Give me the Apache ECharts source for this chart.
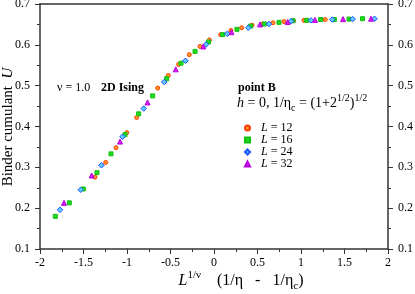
<!DOCTYPE html>
<html><head><meta charset="utf-8">
<script src="https://cdn.jsdelivr.net/npm/echarts@6/dist/echarts.min.js"></script>
<style>html,body{margin:0;padding:0;background:#fff}#c{width:415px;height:294px}</style>
</head><body><div id="c"></div>
<script>
// Data (x = L^{1/nu}(1/eta - 1/eta_c), y = Binder cumulant U)
const L12x = [-1.368,-1.245,-1.126,-1.003,-0.889,-0.647,-0.525,-0.406,-0.284,-0.161,-0.052,0.077,0.195,0.318,0.437,0.560,0.678,0.805,0.914,1.034,1.278];
const L12y = [0.276,0.312,0.348,0.385,0.422,0.494,0.525,0.552,0.576,0.596,0.612,0.625,0.635,0.642,0.648,0.651,0.654,0.657,0.659,0.660,0.662];
const L16x = [-1.824,-1.663,-1.502,-1.345,-1.184,-1.023,-0.866,-0.705,-0.544,-0.379,-0.218,-0.063,0.100,0.264,0.422,0.580,0.747,0.908,1.066,1.226,1.383,1.552,1.707];
const L16y = [0.180,0.213,0.247,0.287,0.333,0.380,0.431,0.475,0.517,0.555,0.584,0.607,0.625,0.638,0.646,0.651,0.655,0.659,0.660,0.662,0.662,0.663,0.664];
const L24x = [-1.770,-1.532,-1.293,-1.052,-0.808,-0.572,-0.328,-0.092,0.153,0.394,0.632,0.885,1.115,1.360,1.594,1.845];
const L24y = [0.196,0.245,0.305,0.375,0.444,0.509,0.561,0.601,0.627,0.642,0.651,0.658,0.660,0.662,0.663,0.664];
const L32x = [-1.724,-1.406,-1.080,-0.764,-0.440,-0.123,0.201,0.529,0.847,1.161,1.483,1.805];
const L32y = [0.213,0.280,0.363,0.459,0.540,0.596,0.631,0.650,0.656,0.661,0.663,0.664];
const seriesNames = ['L = 12','L = 16','L = 24','L = 32'];
const xTickLabels = ['-2','-1.5','-1','-0.5','0','0.5','1','1.5','2'];
const yTickLabels = ['0.1','0.2','0.3','0.4','0.5','0.6','0.7'];

const FF = '"Liberation Serif", "Times New Roman", serif';
const zip = (xs, ys) => xs.map((v, i) => [v, ys[i]]);
const axisCol = '#333';
const xFmt = v => xTickLabels[Math.round((v + 2) / 0.5)] ?? '';
const yFmt = v => yTickLabels[Math.round((v - 0.1) / 0.1)] ?? '';

function xAx(pos, labels) {
  return {
    type: 'value', min: -2, max: 2, interval: 0.5, position: pos,
    axisLine: {show: true, onZero: false, lineStyle: {color: axisCol, width: 1.5}},
    axisTick: {show: labels, inside: false, length: 5, lineStyle: {color: axisCol, width: 1}},
    minorTick: {show: labels, splitNumber: 2, length: 3, lineStyle: {color: axisCol, width: 1}},
    splitLine: {show: false}, minorSplitLine: {show: false},
    axisLabel: {show: labels, margin: 8, fontFamily: FF, fontSize: 12, color: '#000', formatter: xFmt, showMinLabel: true, showMaxLabel: true}
  };
}
function yAx(pos) {
  return {
    type: 'value', min: 0.1, max: 0.7, interval: 0.1, position: pos,
    axisLine: {show: true, onZero: false, lineStyle: {color: axisCol, width: 1.5}},
    axisTick: {show: true, inside: false, length: 5, lineStyle: {color: axisCol, width: 1}},
    minorTick: {show: true, splitNumber: 2, length: 3, lineStyle: {color: axisCol, width: 1}},
    splitLine: {show: false}, minorSplitLine: {show: false},
    axisLabel: {show: true, margin: 10, fontFamily: FF, fontSize: 12, color: '#000', formatter: yFmt, showMinLabel: true, showMaxLabel: true}
  };
}

const styles = [
  {symbol: 'circle', size: 4, color: '#ff9a2a', border: '#ff3c00'},
  {symbol: 'rect', size: 4, color: '#1ed81e', border: '#10c010'},
  {symbol: 'diamond', size: 5.5, color: '#62ccff', border: '#1a55ff'},
  {symbol: 'triangle', size: 5, color: '#d020f0', border: '#b800e0'}
];
const datas = [zip(L12x, L12y), zip(L16x, L16y), zip(L24x, L24y), zip(L32x, L32y)];

const chart = echarts.init(document.getElementById('c'), null, {renderer: 'canvas'});
chart.setOption({
  animation: false,
  backgroundColor: '#fff',
  grid: {left: 40, right: 27, top: 4, bottom: 45, containLabel: false, outerBoundsMode: 'none'},
  xAxis: [xAx('bottom', true), xAx('top', false)],
  yAxis: [yAx('left'), yAx('right')],
  legend: {
    orient: 'vertical', left: 239, top: 117, itemWidth: 5, itemHeight: 5, itemGap: 0,
    data: seriesNames,
    formatter: n => '{i|L}' + n.slice(1),
    textStyle: {fontFamily: FF, fontSize: 12, color: '#000', lineHeight: 12, padding: [0, 0, 0, 6],
      rich: {i: {fontFamily: FF, fontSize: 12, fontStyle: 'italic', color: '#000', lineHeight: 12}}}
  },
  series: seriesNames.map((n, k) => ({
    name: n, type: 'scatter', data: datas[k], symbol: styles[k].symbol, symbolSize: styles[k].size,
    itemStyle: {color: styles[k].color, borderColor: styles[k].border, borderWidth: 1, opacity: 1},
    emphasis: {disabled: true}
  })),
  graphic: [
    {type: 'text', x: 57, y: 88, style: {text: 'ν = 1.0', fontFamily: FF, fontSize: 12, fill: '#000', align: 'left', verticalAlign: 'middle'}},
    {type: 'text', x: 101, y: 88, style: {text: '2D Ising', fontFamily: FF, fontSize: 12, fontWeight: 'bold', fill: '#000', align: 'left', verticalAlign: 'middle'}},
    {type: 'text', x: 238, y: 88, style: {text: 'point B', fontFamily: FF, fontSize: 12, fontWeight: 'bold', fill: '#000', align: 'left', verticalAlign: 'middle'}},
    {type: 'text', x: 237, y: 103, style: {
      text: '{i|h} = 0, 1/η{sub|c} = (1+2{sup|1/2}){sup|1/2}',
      fontFamily: FF, fontSize: 14, fill: '#000', align: 'left', verticalAlign: 'middle', lineHeight: 20,
      rich: {
        i: {fontFamily: FF, fontSize: 14, fontStyle: 'italic', fill: '#000', lineHeight: 20},
        sub: {fontFamily: FF, fontSize: 10, fill: '#000', verticalAlign: 'bottom', lineHeight: 10},
        sup: {fontFamily: FF, fontSize: 10, fill: '#000', verticalAlign: 'top', lineHeight: 10}
      }}},
    {type: 'text', x: 8, y: 127, rotation: Math.PI / 2, style: {
      text: 'Binder cumulant  {i|U}', fontFamily: FF, fontSize: 15, fill: '#000', align: 'center', verticalAlign: 'middle',
      rich: {i: {fontFamily: FF, fontSize: 15, fontStyle: 'italic', fill: '#000'}}}},
    {type: 'text', x: 241, y: 281, style: {
      text: '{i|L}{sup|1/ν}    (1/η   -   1/η{sub|c})',
      fontFamily: FF, fontSize: 16, fill: '#000', align: 'center', verticalAlign: 'middle', lineHeight: 22,
      rich: {
        i: {fontFamily: FF, fontSize: 16, fontStyle: 'italic', fill: '#000', lineHeight: 22},
        sub: {fontFamily: FF, fontSize: 11, fill: '#000', verticalAlign: 'bottom', lineHeight: 11},
        sup: {fontFamily: FF, fontSize: 11, fill: '#000', verticalAlign: 'top', lineHeight: 11}
      }}}
  ]
});
</script></body></html>
